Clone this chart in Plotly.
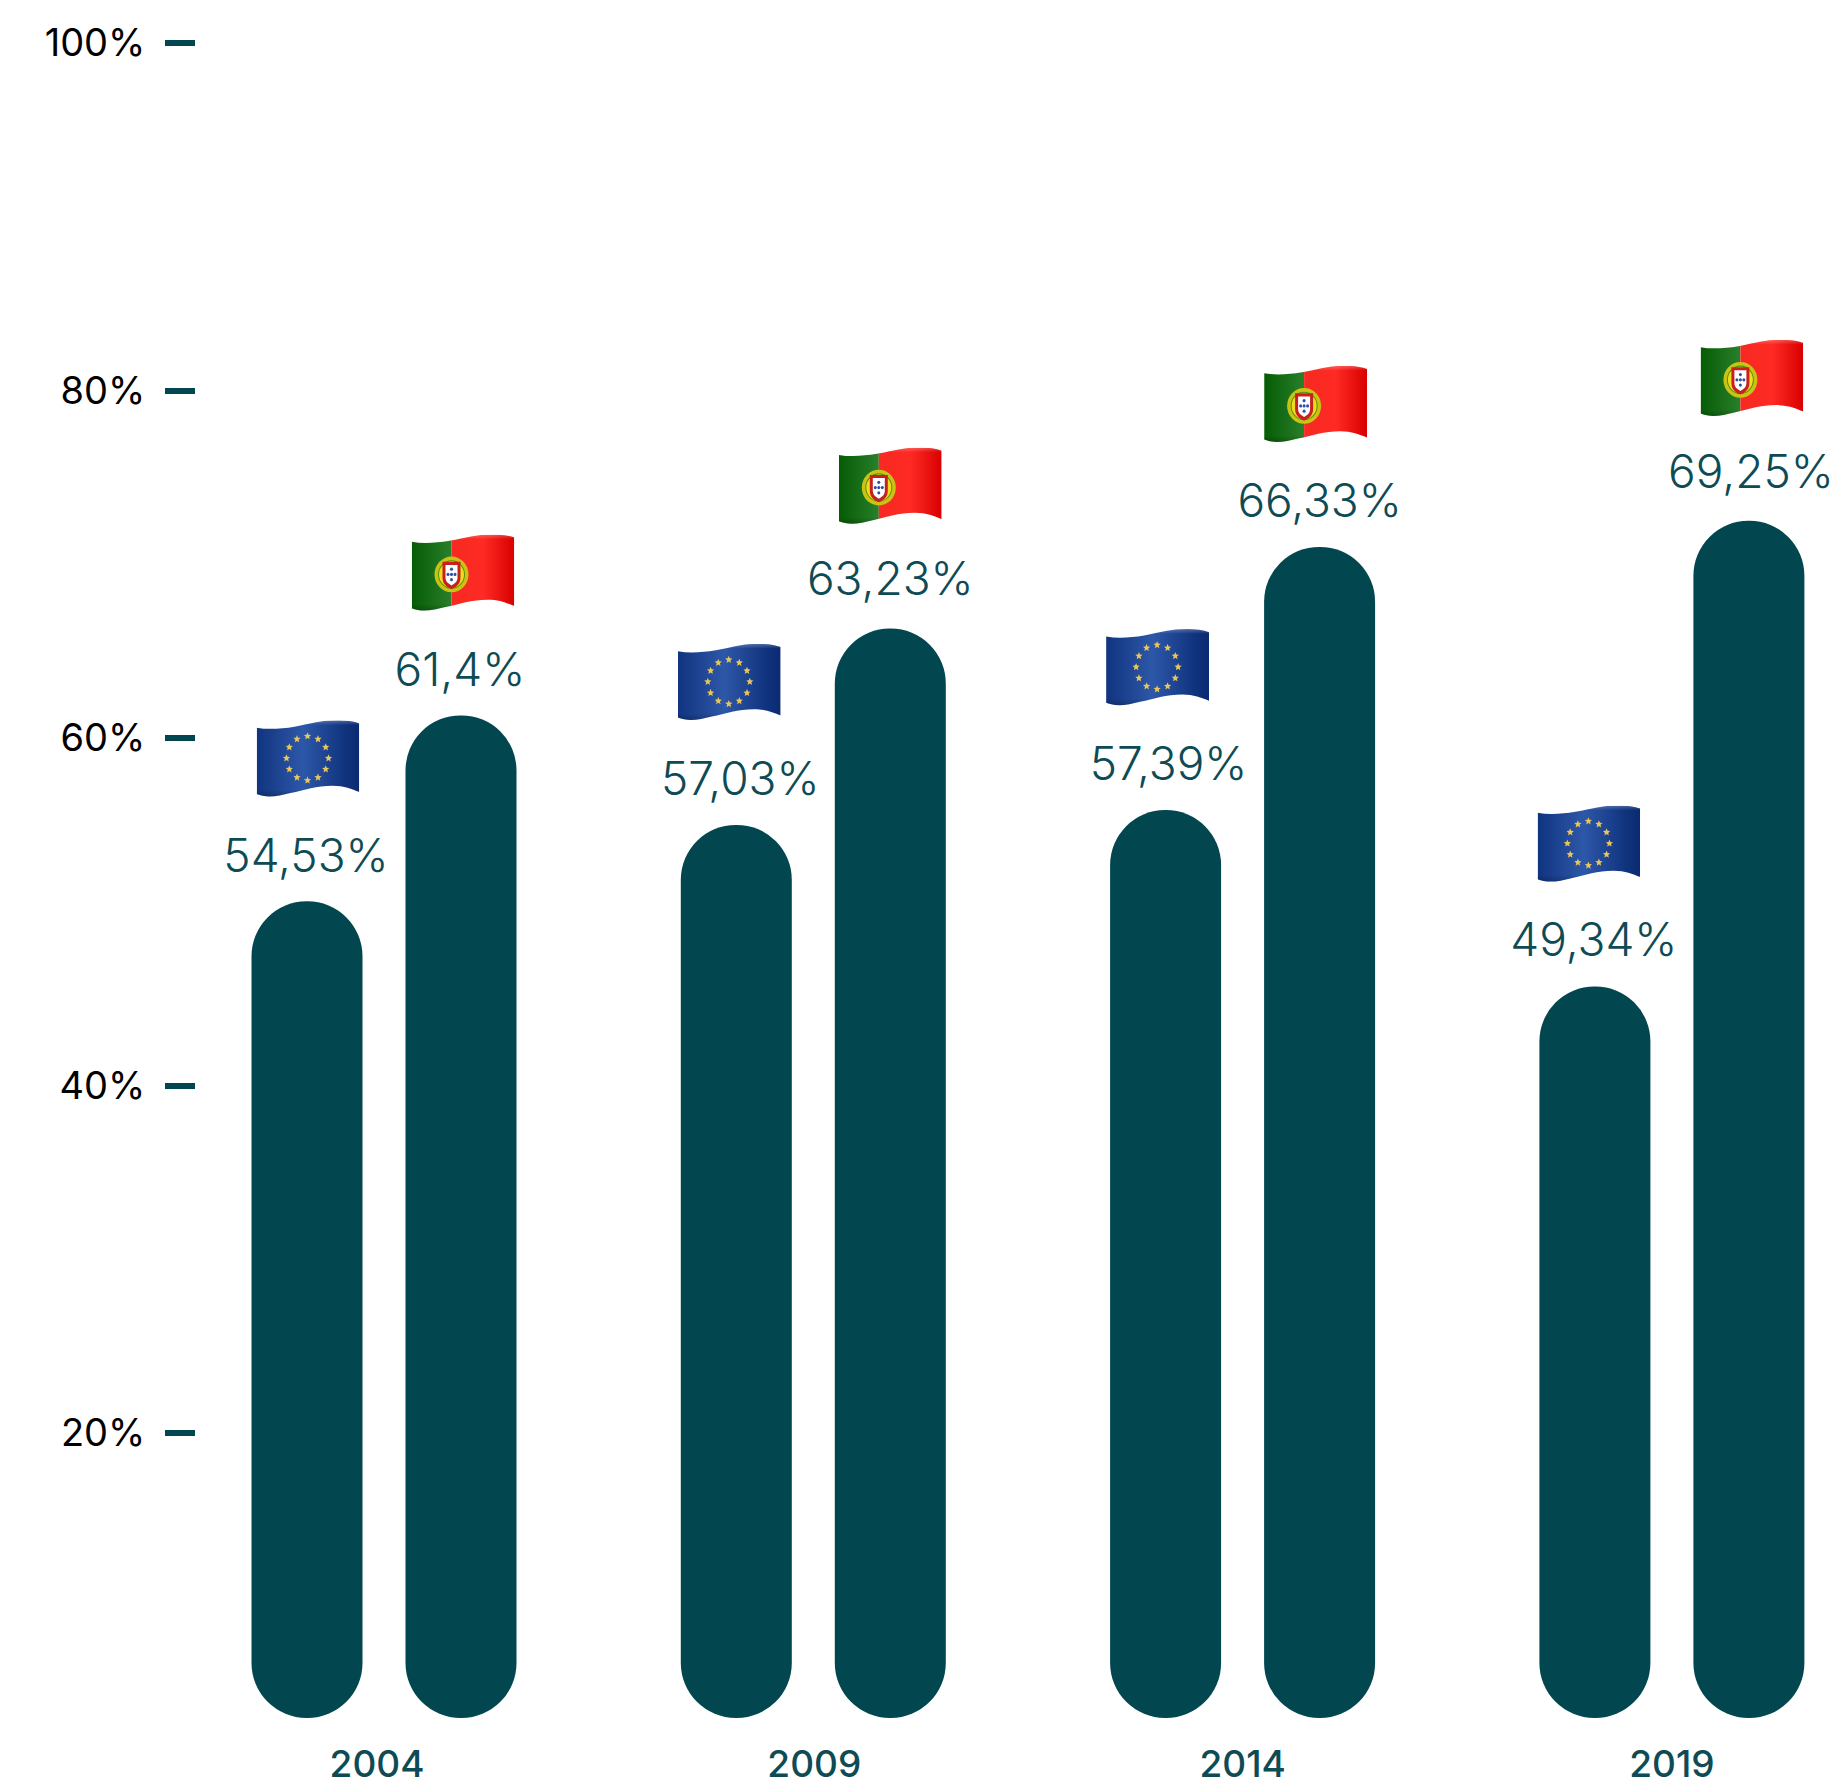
import base64
import math
import plotly.graph_objects as go

# ---- data ----
years = [2004, 2009, 2014, 2019]
eu_labels = ["54,53%", "57,03%", "57,39%", "49,34%"]
pt_labels = ["61,4%", "63,23%", "66,33%", "69,25%"]
# drawn heights of the bars (on the printed axis scale)
eu_tops = [50.6, 55.0, 55.85, 45.7]
pt_tops = [61.3, 66.3, 71.0, 72.5]
bar_floor = 3.6
y_ticks = [20, 40, 60, 80, 100]
y_tick_labels = ["20%", "40%", "60%", "80%", "100%"]

# ---- layout / style ----
PAGE_MARGIN = 8  # the browser's default body margin
W, H = 1839 - PAGE_MARGIN, 1785 - PAGE_MARGIN
BAR = "#02474F"
TXT = "#0E4B55"
FONT = "Inter"
MB = 40
PX_YEAR = 85.86
PX_UNIT = 17.375
ZERO_PX = 1780.5 - PAGE_MARGIN
X0_PX = 384 - PAGE_MARGIN
x_range = [2004 - X0_PX / PX_YEAR, 2004 + (W - X0_PX) / PX_YEAR]
y_range = [(ZERO_PX - (H - MB)) / PX_UNIT, ZERO_PX / PX_UNIT]
OFFSET = 77 / PX_YEAR
BAR_W = 111 / PX_YEAR
LABEL_LIFT = 1.05
FLAG_LIFT = 141.5 / PX_UNIT
# small nudges in pixels
eu_label_nudge = [-1, 4, 3, -1]
pt_label_nudge = [-1, 0, 0, 2]
eu_label_raise = [0, 0, 0, 1]
pt_label_raise = [0, 3.5, 0, 3.5]
eu_flag_nudge = [1, -7, -8, -6]
pt_flag_nudge = [2, 0, -4, 3]
tick_nudge = [-7, 1, 0, 0]


def star(cx, cy, r):
    pts = []
    for i in range(10):
        a = -math.pi / 2 + i * math.pi / 5
        rr = r if i % 2 == 0 else r * 0.45
        pts.append(f"{cx + rr * math.cos(a):.2f},{cy + rr * math.sin(a):.2f}")
    return f'<polygon points="{" ".join(pts)}" fill="#E8C65A"/>'


WAVE = ("M0,7 C12,9 25,8 38,6 C55,3 65,0 80,0 C90,0 97,1 103,3 L103,68 "
        "C95,65 88,62 76,62 C60,62 48,66 34,69 C22,72 10,74 0,70 Z")


def svg_uri(body):
    svg = ('<svg xmlns="http://www.w3.org/2000/svg" width="412" height="300" '
           'viewBox="0 0 103 75"><defs>'
           '<clipPath id="c"><path d="' + WAVE + '"/></clipPath>'
           '<linearGradient id="b" x1="0" x2="1" y1="0" y2="0">'
           '<stop offset="0" stop-color="#10347F"/><stop offset="0.45" stop-color="#2D57A8"/>'
           '<stop offset="0.85" stop-color="#11347F"/><stop offset="1" stop-color="#0A2A70"/></linearGradient>'
           '<linearGradient id="g" x1="0" x2="1" y1="0" y2="0">'
           '<stop offset="0" stop-color="#055C05"/><stop offset="1" stop-color="#2A7F2A"/></linearGradient>'
           '<linearGradient id="r" x1="0" x2="1" y1="0" y2="0">'
           '<stop offset="0" stop-color="#F52A22"/><stop offset="0.5" stop-color="#FF2A24"/>'
           '<stop offset="1" stop-color="#D80000"/></linearGradient>'
           '<linearGradient id="s" x1="0" x2="0" y1="0" y2="1">'
           '<stop offset="0" stop-color="#fff" stop-opacity="0.25"/><stop offset="0.06" stop-color="#fff" stop-opacity="0"/>'
           '<stop offset="0.88" stop-color="#000" stop-opacity="0"/><stop offset="1" stop-color="#000" stop-opacity="0.3"/></linearGradient>'
           '</defs><g clip-path="url(#c)">' + body +
           '<rect x="0" y="0" width="103" height="75" fill="url(#s)"/></g></svg>')
    return "data:image/svg+xml;base64," + base64.b64encode(svg.encode()).decode()


eu_stars = "".join(
    star(51 + 21 * math.cos(math.radians(30 * i)), 36 + 21 * math.sin(math.radians(30 * i)), 3.8)
    for i in range(12))
EU_FLAG = svg_uri('<rect width="103" height="75" fill="url(#b)"/>' + eu_stars)

dots = "".join(f'<circle cx="{x}" cy="{y}" r="1.5" fill="#2B4FA8"/>'
               for x, y in [(40, 33), (36.5, 38), (40, 38), (43.5, 38), (40, 43)])
PT_FLAG = svg_uri(
    '<rect x="0" width="40" height="75" fill="url(#g)"/>'
    '<rect x="40" width="63" height="75" fill="url(#r)"/>'
    '<circle cx="40" cy="38" r="17" fill="#C9C414"/>'
    '<circle cx="40" cy="38" r="13" fill="#F0DC1E" stroke="#5F8A12" stroke-width="1"/>'
    '<path d="M31,26 H49 V41 C49,48 44,50 40,52 C36,50 31,48 31,41 Z" fill="#C8201E"/>'
    '<path d="M34,29 H46 V41 C46,45 43,47 40,48.5 C37,47 34,45 34,41 Z" fill="#fff"/>' + dots)

fig = go.Figure()
for tops, off in ((eu_tops, -OFFSET), (pt_tops, OFFSET)):
    fig.add_bar(x=[y + off for y in years], y=[t - bar_floor for t in tops],
                base=[bar_floor] * len(tops), width=BAR_W,
                marker=dict(color=BAR, cornerradius="50%", line_width=0))

for tops, labels, off, nudge, lift in ((eu_tops, eu_labels, -OFFSET, eu_label_nudge, eu_label_raise),
                                       (pt_tops, pt_labels, OFFSET, pt_label_nudge, pt_label_raise)):
    fig.add_scatter(x=[y + off + n / PX_YEAR for y, n in zip(years, nudge)],
                    y=[t + LABEL_LIFT + r / PX_UNIT for t, r in zip(tops, lift)],
                    mode="text", text=labels, textposition="top center", cliponaxis=False,
                    textfont=dict(family=FONT, size=46, color=TXT, weight=300))

images = []
for tops, src, off, nudge in ((eu_tops, EU_FLAG, -OFFSET, eu_flag_nudge),
                              (pt_tops, PT_FLAG, OFFSET, pt_flag_nudge)):
    for y, t, n in zip(years, tops, nudge):
        images.append(dict(source=src, xref="x", yref="y", x=y + off + n / PX_YEAR, y=t + FLAG_LIFT,
                           sizex=103 / PX_YEAR, sizey=79 / PX_UNIT, xanchor="center",
                           yanchor="middle", sizing="stretch", layer="above"))

fig.update_layout(
    width=W, height=H, margin=dict(l=0, r=0, t=0, b=MB, pad=0),
    autosize=False, showlegend=False, barmode="overlay",
    paper_bgcolor="white", plot_bgcolor="white", images=images,
    xaxis=dict(range=x_range, tickvals=[y + n / PX_YEAR for y, n in zip(years, tick_nudge)],
               ticktext=[str(y) for y in years], automargin=False,
               showgrid=False, zeroline=False, showline=False, ticks="",
               ticklabelstandoff=-6,
               tickfont=dict(family=FONT, size=37, color=TXT, weight=500)),
    yaxis=dict(range=y_range, tickvals=y_ticks, ticktext=y_tick_labels, automargin=False,
               anchor="free", position=(195 - PAGE_MARGIN) / W,
               showgrid=False, zeroline=False, showline=False,
               ticks="outside", ticklen=30, tickwidth=6, tickcolor=BAR,
               ticklabelstandoff=12,
               tickfont=dict(family=FONT, size=38, color="black", weight=400)),
)
fig.write_html("out.html")
